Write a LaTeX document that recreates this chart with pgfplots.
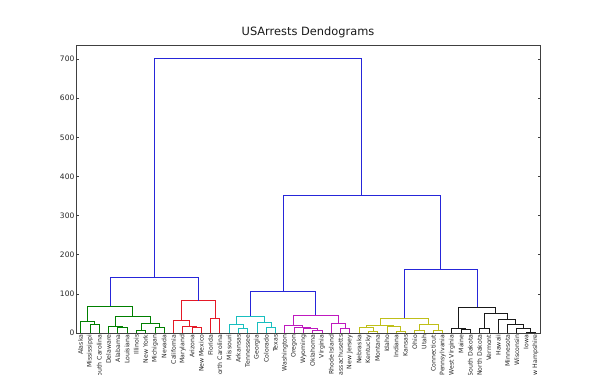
\documentclass[border=0pt]{standalone}
\usepackage{pgfplots}
\pgfplotsset{compat=1.18}
\usepackage{fontspec}
\setmainfont{DejaVu Sans}
\definecolor{dgreen}{rgb}{0,0.5,0}
\definecolor{dred}{rgb}{0.9,0.1,0.15}
\definecolor{dcyan}{rgb}{0.1,0.75,0.75}
\definecolor{dmag}{rgb}{0.75,0.1,0.75}
\definecolor{dyel}{rgb}{0.75,0.75,0.1}
\definecolor{dblack}{rgb}{0.1,0.1,0.1}
\definecolor{dblue}{rgb}{0.15,0.15,0.85}
\begin{document}
\begin{tikzpicture}
\path[use as bounding box] (0pt,0pt) rectangle (600pt,375pt);
\clip (0pt,0pt) rectangle (600pt,375pt);
\begin{axis}[
  at={(76pt,42pt)}, anchor=south west,
  scale only axis, width=464pt, height=288pt,
  xmin=0, xmax=500, ymin=0, ymax=735.9,
  axis line style={draw=black!75, line width=0.6pt},
  ytick={0,100,...,700},
  tick align=inside,
  ytick pos=both,
  major tick length=2.5pt,
  y tick style={black!75, line width=0.5pt},
  xtick={5,15,...,495},
  x tick style={draw=none},
  xticklabels={Alaska,Mississippi,South Carolina,Delaware,Alabama,Louisiana,Illinois,New York,Michigan,Nevada,California,Maryland,Arizona,New Mexico,Florida,North Carolina,Missouri,Arkansas,Tennessee,Georgia,Colorado,Texas,Washington,Oregon,Wyoming,Oklahoma,Virginia,Rhode Island,Massachusetts,New Jersey,Nebraska,Kentucky,Montana,Idaho,Indiana,Kansas,Ohio,Utah,Connecticut,Pennsylvania,West Virginia,Maine,South Dakota,North Dakota,Vermont,Hawaii,Minnesota,Wisconsin,Iowa,New Hampshire},
  xticklabel style={rotate=90, anchor=east, font=\fontsize{6.2}{7}\selectfont, text=black!85, inner sep=1.5pt},
  yticklabel style={font=\fontsize{7.5}{9}\selectfont, text=black!85, inner sep=1.5pt},
  /pgf/number format/assume math mode=true,
  title={USArrests Dendograms},
  title style={font=\fontsize{11.4}{13}\selectfont, text=black!90, at={(0.5,1)}, anchor=base, yshift=3pt, inner sep=0pt},
  every axis plot/.append style={line width=0.7pt, mark=none},
]
% green cluster
\addplot[color=dgreen] coordinates {(15,0)(15,21.2)(25,21.2)(25,0)};
\addplot[color=dgreen] coordinates {(5,0)(5,30.1)(20,30.1)(20,21.2)};
\addplot[color=dgreen] coordinates {(45,0)(45,15.5)(55,15.5)(55,0)};
\addplot[color=dgreen] coordinates {(35,0)(35,17.3)(50,17.3)(50,15.5)};
\addplot[color=dgreen] coordinates {(65,0)(65,6.2)(75,6.2)(75,0)};
\addplot[color=dgreen] coordinates {(85,0)(85,13.3)(95,13.3)(95,0)};
\addplot[color=dgreen] coordinates {(70,6.2)(70,24.3)(90,24.3)(90,13.3)};
\addplot[color=dgreen] coordinates {(42.5,17.3)(42.5,43.4)(80,43.4)(80,24.3)};
\addplot[color=dgreen] coordinates {(12.5,30.1)(12.5,69.3)(61.25,69.3)(61.25,43.4)};
% red cluster
\addplot[color=dred] coordinates {(125,0)(125,13.9)(135,13.9)(135,0)};
\addplot[color=dred] coordinates {(115,0)(115,15.95)(130,15.95)(130,13.9)};
\addplot[color=dred] coordinates {(105,0)(105,33.4)(122.5,33.4)(122.5,15.95)};
\addplot[color=dred] coordinates {(145,0)(145,38.5)(155,38.5)(155,0)};
\addplot[color=dred] coordinates {(113.75,33.4)(113.75,82.3)(150,82.3)(150,38.5)};
% cyan cluster
\addplot[color=dcyan] coordinates {(175,0)(175,12.6)(185,12.6)(185,0)};
\addplot[color=dcyan] coordinates {(165,0)(165,22.8)(180,22.8)(180,12.6)};
\addplot[color=dcyan] coordinates {(205,0)(205,14.5)(215,14.5)(215,0)};
\addplot[color=dcyan] coordinates {(195,0)(195,26.4)(210,26.4)(210,14.5)};
\addplot[color=dcyan] coordinates {(172.5,22.8)(172.5,42.45)(202.5,42.45)(202.5,26.4)};
% magenta cluster
\addplot[color=dmag] coordinates {(255,0)(255,7.36)(265,7.36)(265,0)};
\addplot[color=dmag] coordinates {(245,0)(245,12.1)(260,12.1)(260,7.36)};
\addplot[color=dmag] coordinates {(235,0)(235,14.3)(252.5,14.3)(252.5,12.1)};
\addplot[color=dmag] coordinates {(225,0)(225,19.6)(243.75,19.6)(243.75,14.3)};
\addplot[color=dmag] coordinates {(285,0)(285,11.5)(295,11.5)(295,0)};
\addplot[color=dmag] coordinates {(275,0)(275,25.6)(290,25.6)(290,11.5)};
\addplot[color=dmag] coordinates {(234.375,19.6)(234.375,44.8)(282.5,44.8)(282.5,25.6)};
% yellow cluster
\addplot[color=dyel] coordinates {(315,0)(315,3.83)(325,3.83)(325,0)};
\addplot[color=dyel] coordinates {(305,0)(305,14.2)(320,14.2)(320,3.83)};
\addplot[color=dyel] coordinates {(345,0)(345,3.93)(355,3.93)(355,0)};
\addplot[color=dyel] coordinates {(335,0)(335,16.8)(350,16.8)(350,3.93)};
\addplot[color=dyel] coordinates {(312.5,14.2)(312.5,19.5)(342.5,19.5)(342.5,16.8)};
\addplot[color=dyel] coordinates {(365,0)(365,6.64)(375,6.64)(375,0)};
\addplot[color=dyel] coordinates {(385,0)(385,8.03)(395,8.03)(395,0)};
\addplot[color=dyel] coordinates {(370,6.64)(370,21.8)(390,21.8)(390,8.03)};
\addplot[color=dyel] coordinates {(327.5,19.5)(327.5,38.5)(380,38.5)(380,21.8)};
% black cluster
\addplot[color=dblack] coordinates {(415,0)(415,8.54)(425,8.54)(425,0)};
\addplot[color=dblack] coordinates {(405,0)(405,11.65)(420,11.65)(420,8.54)};
\addplot[color=dblack] coordinates {(435,0)(435,13.05)(445,13.05)(445,0)};
\addplot[color=dblack] coordinates {(485,0)(485,2.29)(495,2.29)(495,0)};
\addplot[color=dblack] coordinates {(475,0)(475,11.7)(490,11.7)(490,2.29)};
\addplot[color=dblack] coordinates {(465,0)(465,22.5)(482.5,22.5)(482.5,11.7)};
\addplot[color=dblack] coordinates {(455,0)(455,34.3)(473.75,34.3)(473.75,22.5)};
\addplot[color=dblack] coordinates {(440,13.05)(440,50.3)(464.375,50.3)(464.375,34.3)};
\addplot[color=dblack] coordinates {(412.5,11.65)(412.5,66.0)(452.1875,66.0)(452.1875,50.3)};
% blue links above threshold
\addplot[color=dblue] coordinates {(36.875,69.3)(36.875,141.2)(131.875,141.2)(131.875,82.3)};
\addplot[color=dblue] coordinates {(187.5,42.45)(187.5,106.3)(258.4375,106.3)(258.4375,44.8)};
\addplot[color=dblue] coordinates {(353.75,38.5)(353.75,162.7)(432.34375,162.7)(432.34375,66.0)};
\addplot[color=dblue] coordinates {(222.96875,106.3)(222.96875,352.8)(393.046875,352.8)(393.046875,162.7)};
\addplot[color=dblue] coordinates {(84.375,141.2)(84.375,700.9)(308.0078,700.9)(308.0078,352.8)};
\end{axis}
\end{tikzpicture}
\end{document}
